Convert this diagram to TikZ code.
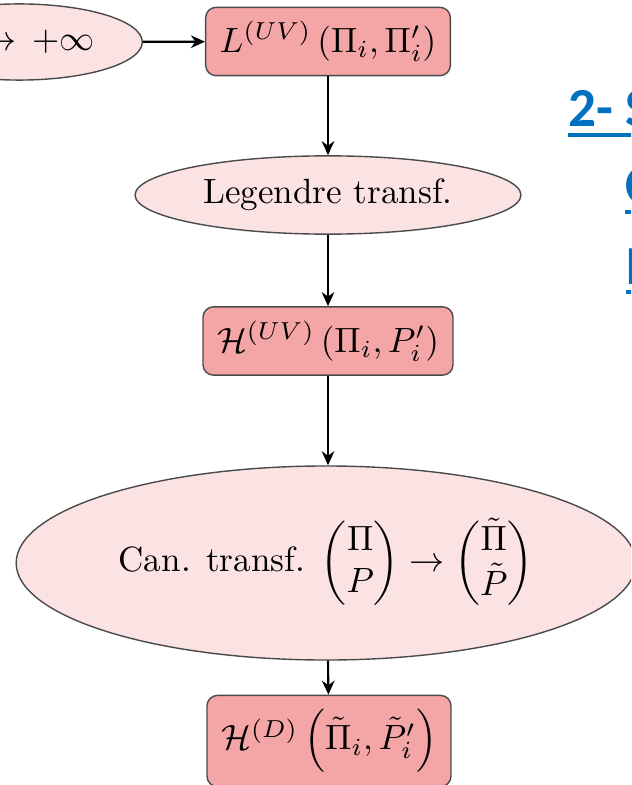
\documentclass[tikz,border=0pt]{standalone}
\usepackage{amsmath}
\usepackage{fontspec}
\usetikzlibrary{arrows.meta, shapes.geometric}
\newfontfamily\linkfont{Carlito}
\definecolor{boxpink}{HTML}{F4A6A7}
\definecolor{ovalpink}{HTML}{FCE3E3}
\definecolor{edgegray}{HTML}{4A4A4A}
\definecolor{linkblue}{HTML}{0070C0}
\tikzset{
  flow/.style={-{Stealth[length=4pt, width=3.6pt]}, line width=0.6pt, color=black},
  statebox/.style={draw=edgegray, fill=boxpink, rounded corners=3pt, line width=0.4pt, inner sep=4pt, minimum width=68.4pt, minimum height=18pt},
  transoval/.style={ellipse, draw=edgegray, fill=ovalpink, line width=0.4pt},
  linktext/.style={color=linkblue, font=\linkfont\bfseries\fontsize{15.7}{19}\selectfont, inner sep=0pt, anchor=base west},
  linkline/.style={color=linkblue, line width=1.05pt}
}

\begin{document}
\begin{tikzpicture}[x=0.285pt, y=-0.285pt]
\useasboundingbox (0,0) rectangle (631,785);
\clip (0,0) rectangle (631,785);
\node[transoval, anchor=east, text width=43pt, align=right, minimum height=21.7pt] (limit) at (143,42) {$\to+\infty$};
\node[statebox] (lagr) at (328,41.5) {$L^{(UV)}\left(\Pi_i,\Pi'_i\right)$};
\node[transoval] (legendre) at (328,195) {Legendre transf.};
\node[statebox] (hamuv) at (328,341) {$\mathcal{H}^{(UV)}\left(\Pi_i,P'_i\right)$};
\node[transoval, minimum height=55.3pt, minimum width=175pt] (canon) at (326,563) {Can. transf. $\begin{pmatrix}\Pi\\P\end{pmatrix}\to\begin{pmatrix}\tilde{\Pi}\\\tilde{P}\end{pmatrix}$};
\node[statebox, minimum height=23.4pt] (hamd) at (329,741) {$\mathcal{H}^{(D)}\left(\tilde{\Pi}_i,\tilde{P}'_i\right)$};
\draw[flow] (limit) -- (lagr);
\draw[flow] (lagr) -- (legendre);
\draw[flow] (legendre) -- (hamuv);
\draw[flow] (hamuv) -- (hamuv |- canon.north);
\draw[flow] (hamuv |- canon.south) -- (hamd);
\node[linktext] (head) at (568,127) {2- S};
\draw[linkline] ([yshift=-2.3pt]head.base west) -- ([yshift=-2.3pt]head.base east);
\node[linktext] (linetwo) at (625,204) {C};
\draw[linkline] ([yshift=-2.3pt]linetwo.base west) -- ([yshift=-2.3pt]linetwo.base east);
\node[linktext] (linethree) at (626,284) {L};
\draw[linkline] ([yshift=-2.3pt]linethree.base west) -- ([yshift=-2.3pt]linethree.base east);
\end{tikzpicture}
\end{document}
